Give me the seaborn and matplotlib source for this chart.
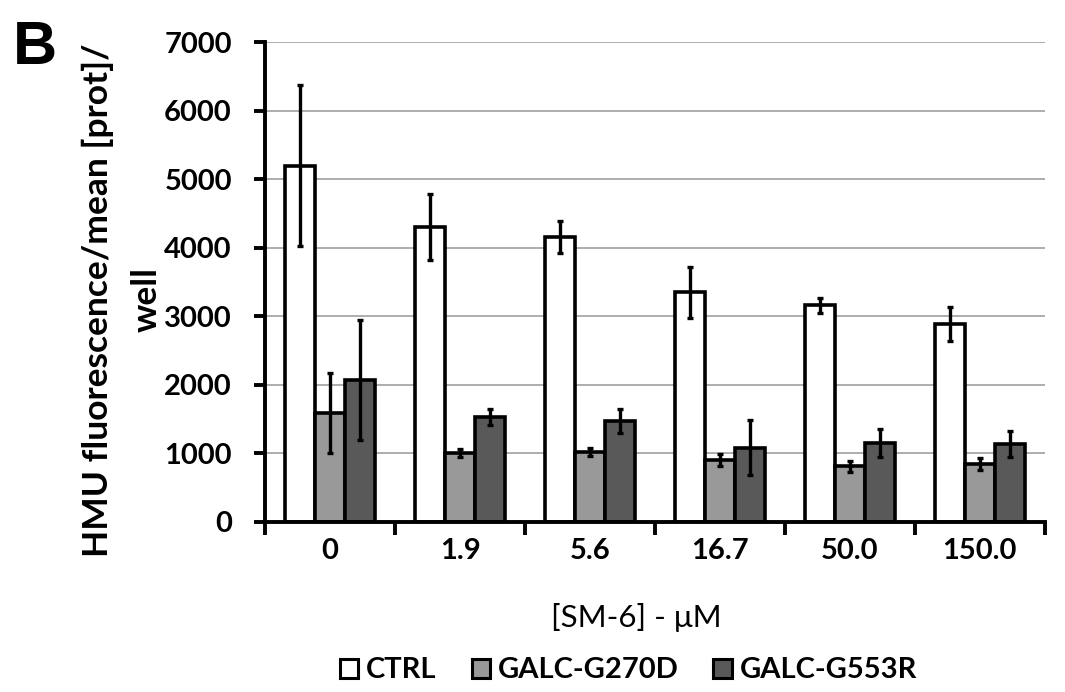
import matplotlib
matplotlib.use("Agg")
import matplotlib.pyplot as plt
import seaborn as sns
import pandas as pd
import numpy as np

# --- data ---
doses = ["0", "1.9", "5.6", "16.7", "50.0", "150.0"]
groups = ["CTRL", "GALC-G270D", "GALC-G553R"]

ctrl_mean = [5200, 4300, 4160, 3350, 3160, 2890]
ctrl_err = [1170, 480, 230, 370, 110, 250]
g270d_mean = [1590, 1000, 1020, 900, 810, 840]
g270d_err = [580, 60, 60, 90, 80, 90]
g553r_mean = [2070, 1530, 1470, 1080, 1150, 1140]
g553r_err = [880, 120, 180, 400, 200, 190]

means = {"CTRL": ctrl_mean, "GALC-G270D": g270d_mean, "GALC-G553R": g553r_mean}
errs = {"CTRL": ctrl_err, "GALC-G270D": g270d_err, "GALC-G553R": g553r_err}

rows = []
for g in groups:
    for d, m, e in zip(doses, means[g], errs[g]):
        rows.append({"dose": d, "group": g, "value": m, "err": e})
df = pd.DataFrame(rows)

sns.set_theme(style="white")
plt.rcParams["font.family"] = ["Lato", "DejaVu Sans"]
plt.rcParams["text.color"] = "black"
plt.rcParams["axes.labelcolor"] = "black"
plt.rcParams["xtick.color"] = "black"
plt.rcParams["ytick.color"] = "black"

fig = plt.figure(figsize=(10.65, 6.92), dpi=100)
ax = fig.add_axes([0.249, 0.246, 0.732, 0.693])

palette = {"CTRL": "#ffffff", "GALC-G270D": "#999999", "GALC-G553R": "#595959"}
sns.barplot(
    data=df, x="dose", y="value", hue="group", order=doses, hue_order=groups,
    palette=palette, errorbar=None, width=0.69, saturation=1,
    edgecolor="black", linewidth=2.6, ax=ax,
)

# error bars on top of each bar
for cont, g in zip(ax.containers, groups):
    xs = [p.get_x() + p.get_width() / 2 for p in cont.patches]
    ys = [p.get_height() for p in cont.patches]
    ax.errorbar(xs, ys, yerr=errs[g], fmt="none", ecolor="black",
                elinewidth=2.4, capsize=2.5, capthick=2.4, zorder=5)

ax.set_ylim(0, 7000)
ax.set_yticks(range(0, 7001, 1000))
ax.set_xlim(-0.5, len(doses) - 0.5)
ax.yaxis.grid(True, color="#a0a0a0", linewidth=1.2)
ax.set_axisbelow(True)

for s in ["top", "right"]:
    ax.spines[s].set_visible(False)
for s in ["left", "bottom"]:
    ax.spines[s].set_color("black")
    ax.spines[s].set_linewidth(2.8)

# category boundaries as x ticks, labels in between
ax.set_xticks(np.arange(-0.5, len(doses), 1.0))
ax.set_xticklabels([])
ax.set_xticks(np.arange(len(doses)), minor=True)
ax.set_xticklabels(doses, minor=True, fontsize=21, fontweight="bold")
ax.tick_params(axis="x", which="major", direction="out", length=9, width=2.8)
ax.tick_params(axis="x", which="minor", length=0, pad=12)
ax.tick_params(axis="y", direction="out", length=8, width=2.8,
               labelsize=21, pad=16)
for lbl in ax.get_yticklabels():
    lbl.set_fontweight("bold")
ax.tick_params(left=True, bottom=True)

ax.set_ylabel("HMU fluorescence/mean [prot]/\nwell", fontsize=25.5, fontweight="bold",
              linespacing=1.65, va="center")
ax.yaxis.set_label_coords(-0.183, 0.4625)
ax.set_xlabel("[SM-6] - μM", fontsize=22.5, va="center")
ax.xaxis.set_label_coords(0.476, -0.2)

leg = ax.legend(loc="center", bbox_to_anchor=(0.466, -0.31), ncol=3,
                frameon=False, handlelength=0.62, handleheight=0.62,
                handletextpad=0.27, columnspacing=1.2, borderpad=0,
                prop={"size": 21, "weight": "bold"})
for h in leg.legend_handles:
    h.set_linewidth(2.2)

fig.text(0.012, 0.907, "B", fontsize=44, fontweight="bold", va="baseline",
         family="Liberation Sans")

fig.savefig("out.png", dpi=100)
